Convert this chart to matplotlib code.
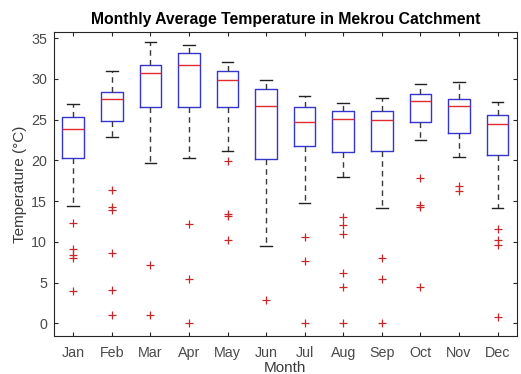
import numpy as np
import matplotlib
matplotlib.use("Agg")
import matplotlib.pyplot as plt

plt.rcParams['font.family'] = ['Liberation Sans', 'DejaVu Sans']

months = ["Jan", "Feb", "Mar", "Apr", "May", "Jun", "Jul", "Aug", "Sep", "Oct", "Nov", "Dec"]

# box statistics per month (deg C)
whisk_lo = [14.4, 22.9, 19.7, 20.3, 21.2, 9.5, 14.7, 18.0, 14.2, 22.5, 20.4, 14.2]
q1 = [20.3, 24.8, 26.6, 26.6, 26.5, 20.1, 21.7, 21.0, 21.2, 24.7, 23.3, 20.7]
med = [23.8, 27.5, 30.7, 31.7, 29.8, 26.7, 24.7, 25.1, 25.0, 27.3, 26.7, 24.4]
q3 = [25.3, 28.4, 31.7, 33.2, 30.9, 28.7, 26.6, 26.1, 26.0, 28.1, 27.5, 25.5]
whisk_hi = [26.9, 30.9, 34.5, 34.2, 32.0, 29.9, 27.9, 27.0, 27.7, 29.3, 29.6, 27.2]
outliers = [
    [12.3, 9.1, 8.4, 8.0, 4.0],
    [16.3, 14.3, 13.9, 8.6, 4.1, 1.0],
    [7.2, 1.0],
    [12.2, 5.4, 0.0],
    [19.9, 13.4, 13.2, 10.2],
    [2.9],
    [10.6, 7.6, 0.0],
    [13.0, 12.0, 11.0, 6.2, 4.4, 0.0],
    [8.0, 5.4, 0.0],
    [17.8, 14.5, 14.3, 4.5],
    [16.9, 16.2],
    [11.6, 10.2, 9.6, 0.8],
]

stats = []
for i, m in enumerate(months):
    stats.append({"label": m, "whislo": whisk_lo[i], "q1": q1[i], "med": med[i],
                  "q3": q3[i], "whishi": whisk_hi[i], "fliers": outliers[i]})

fig = plt.figure(figsize=(5.21, 3.74), dpi=100)
ax = fig.add_axes([0.1036, 0.1016, 0.8884, 0.8128])

ax.bxp(stats, widths=0.56, showfliers=True,
       boxprops=dict(color="#3535d0", linewidth=1.0),
       medianprops=dict(color="#e02a2e", linewidth=1.0),
       whiskerprops=dict(color="#3a3a3a", linestyle=(0, (4, 3)), linewidth=1.0),
       capprops=dict(color="#222222", linewidth=1.0),
       capwidths=0.3,
       flierprops=dict(marker="+", markeredgecolor="#c8282c", markersize=6,
                       markeredgewidth=0.9, linestyle="none"))

ax.set_xlim(0.5, 12.5)
ax.set_ylim(-1.56, 35.74)
ax.set_yticks(np.arange(0, 36, 5))
ax.tick_params(direction="in", top=True, right=True, length=3, width=0.8,
               labelsize=10.3, labelcolor="#4a4a4a", color="#262626")
ax.tick_params(axis="x", pad=7)
ax.tick_params(axis="y", pad=5)
for s in ax.spines.values():
    s.set_color("#262626")
    s.set_linewidth(0.8)

ax.set_title("Monthly Average Temperature in Mekrou Catchment",
             fontsize=11.3, fontweight="bold", pad=6)
ax.set_xlabel("Month", fontsize=11, color="#3a3a3a", labelpad=1)
ax.set_ylabel("Temperature (°C)", fontsize=11, color="#3a3a3a", labelpad=3)

fig.savefig("out.png", dpi=100)
